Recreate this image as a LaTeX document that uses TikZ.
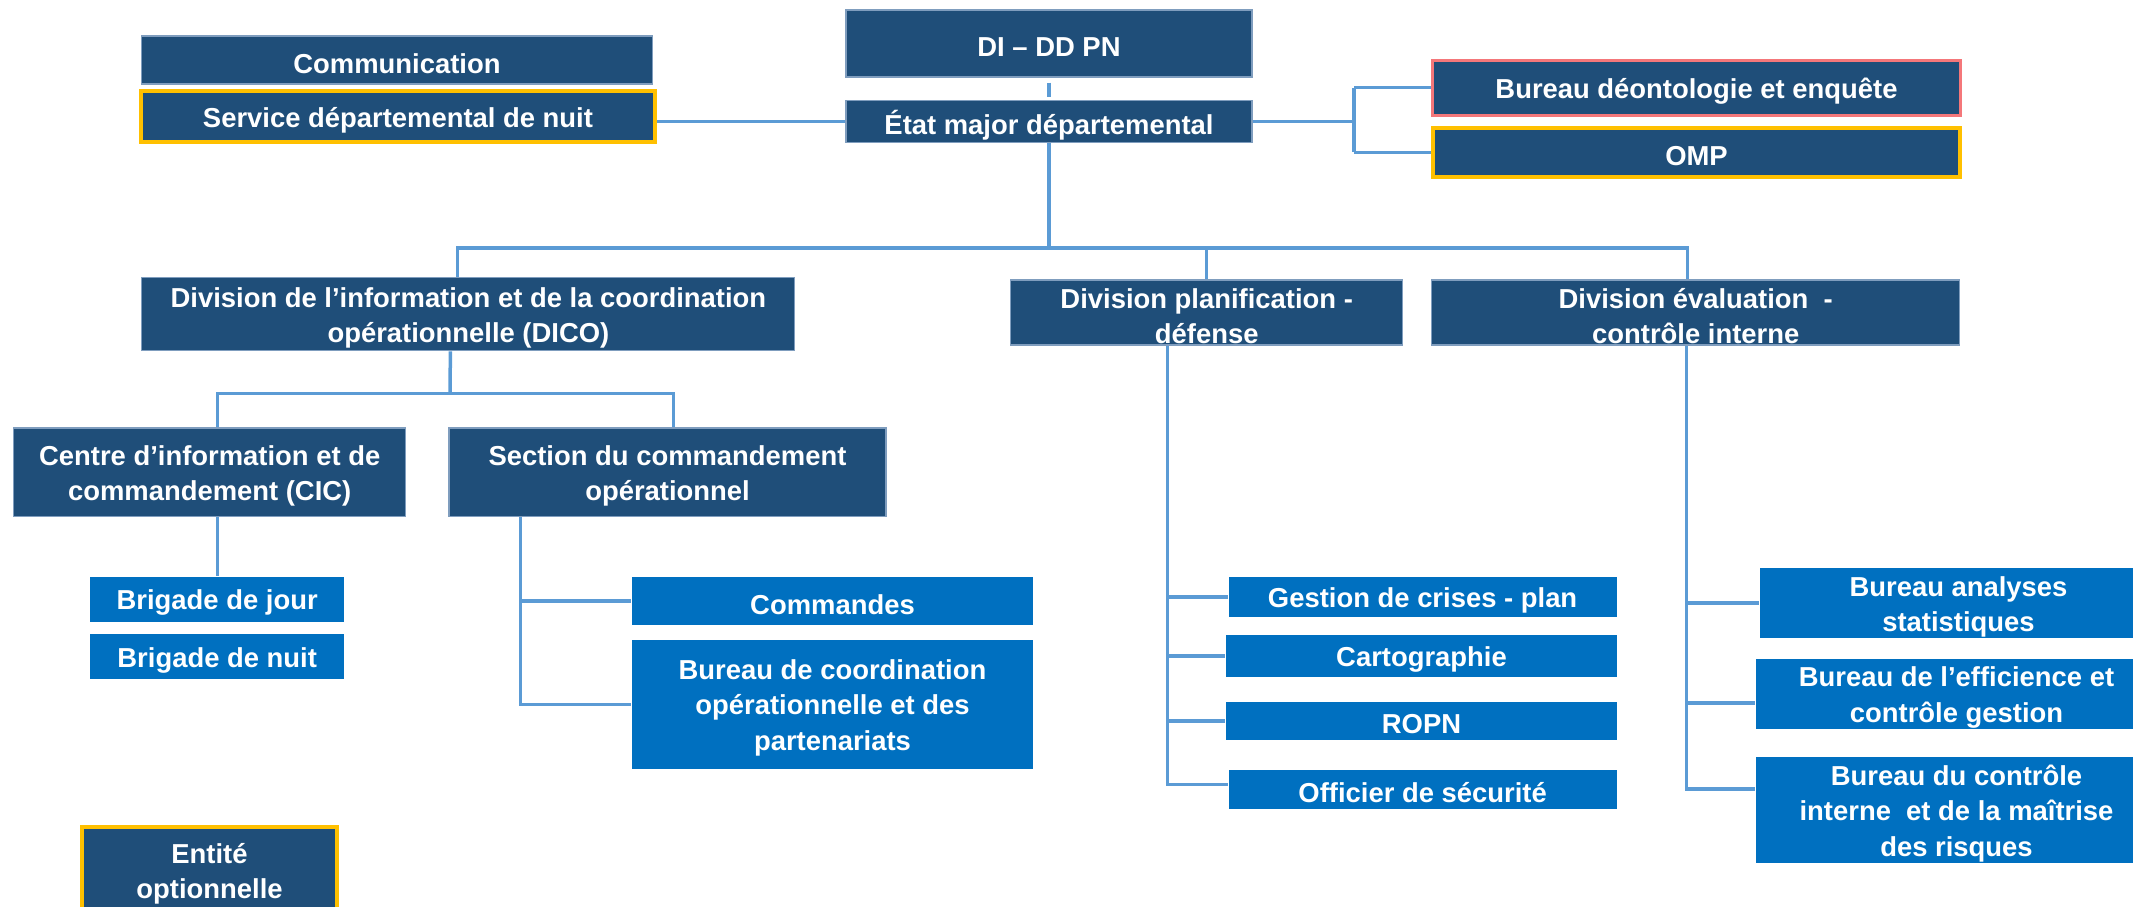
\documentclass[tikz,border=0pt]{standalone}
\usepackage{fontspec}
\setmainfont{Liberation Sans}

\definecolor{navybox}{HTML}{1F4E79}
\definecolor{navyedge}{HTML}{7F9DBE}
\definecolor{bluebox}{HTML}{0070C0}
\definecolor{linkblue}{HTML}{5B9BD5}
\definecolor{optyellow}{HTML}{FFC000}
\definecolor{deontored}{HTML}{F4777A}

\tikzset{
  boxtext/.style={text=white, align=center, inner sep=0pt, yshift=-1pt, font=\bfseries\fontsize{7.8}{10}\selectfont},
  navybox/.style={fill=navybox, draw=navyedge, line width=0.3pt, inner sep=0pt},
  bluebox/.style={fill=bluebox, inner sep=0pt},
  optbox/.style={fill=navybox, draw=optyellow, line width=0.04cm, inner sep=0pt},
  redbox/.style={fill=navybox, draw=deontored, line width=0.03cm, inner sep=0pt},
  link/.style={draw=linkblue, line width=0.035cm},
}

\begin{document}
\begin{tikzpicture}

    % Fix the frame of the picture
    \useasboundingbox (0,0) rectangle (21.33,-9.07);

    % Top of the chart
    \node[navybox, minimum width=4.06cm, minimum height=0.67cm, label={[boxtext]center:{DI – DD PN}}] (didd) at (10.49,-0.435) {};
    \node[navybox, minimum width=4.06cm, minimum height=0.42cm, label={[boxtext]center:{État major départemental}}] (etat) at (10.49,-1.215) {};
    \node[navybox, minimum width=5.11cm, minimum height=0.48cm, label={[boxtext]center:{Communication}}] (comm) at (3.97,-0.60) {};
    \node[optbox, minimum width=5.14cm, minimum height=0.51cm, label={[boxtext]center:{Service départemental de nuit}}] (nuit) at (3.98,-1.165) {};
    \node[redbox, minimum width=5.28cm, minimum height=0.55cm, label={[boxtext]center:{Bureau déontologie et enquête}}] (deonto) at (16.965,-0.877) {};
    \node[optbox, minimum width=5.27cm, minimum height=0.49cm, label={[boxtext]center:{OMP}}] (omp) at (16.965,-1.523) {};

    % The three divisions
    \node[navybox, minimum width=6.53cm, minimum height=0.73cm, label={[boxtext]center:{Division de l’information et de la coordination\\opérationnelle (DICO)}}] (dico) at (4.684,-3.144) {};
    \node[navybox, minimum width=3.92cm, minimum height=0.65cm, label={[boxtext]center:{Division planification -\\défense}}] (dplan) at (12.067,-3.125) {};
    \node[navybox, minimum width=5.275cm, minimum height=0.65cm, label={[boxtext]center:{Division évaluation~ -\\contrôle interne}}] (deval) at (16.957,-3.125) {};

    % Under the DICO
    \node[navybox, minimum width=3.915cm, minimum height=0.888cm, label={[boxtext]center:{Centre d’information et de\\commandement (CIC)}}] (cic) at (2.097,-4.724) {};
    \node[navybox, minimum width=4.37cm, minimum height=0.888cm, label={[boxtext]center:{Section du commandement\\opérationnel}}] (section) at (6.675,-4.724) {};
    \node[bluebox, minimum width=2.54cm, minimum height=0.447cm, label={[boxtext]center:{Brigade de jour}}] (bjour) at (2.172,-5.993) {};
    \node[bluebox, minimum width=2.54cm, minimum height=0.445cm, label={[boxtext]center:{Brigade de nuit}}] (bnuit) at (2.172,-6.567) {};
    \node[bluebox, minimum width=4.01cm, minimum height=0.477cm, label={[boxtext]center:{Commandes}}] (commandes) at (8.325,-6.008) {};
    \node[bluebox, minimum width=4.01cm, minimum height=1.286cm, label={[boxtext]center:{Bureau de coordination\\opérationnelle et des\\partenariats}}] (bcoord) at (8.325,-7.043) {};

    % Under the planification division
    \node[bluebox, minimum width=3.88cm, minimum height=0.40cm, label={[boxtext]center:{Gestion de crises - plan}}] (gestion) at (14.226,-5.97) {};
    \node[bluebox, minimum width=3.91cm, minimum height=0.42cm, label={[boxtext]center:{Cartographie}}] (carto) at (14.215,-6.56) {};
    \node[bluebox, minimum width=3.91cm, minimum height=0.38cm, label={[boxtext]center:{ROPN}}] (ropn) at (14.215,-7.21) {};
    \node[bluebox, minimum width=3.88cm, minimum height=0.39cm, label={[boxtext]center:{Officier de sécurité}}] (officier) at (14.226,-7.895) {};

    % Under the evaluation division
    \node[bluebox, minimum width=3.97cm, minimum height=0.70cm, label={[boxtext]center:{Bureau analyses\\statistiques}}] (banalyses) at (19.585,-6.03) {};
    \node[bluebox, minimum width=4.01cm, minimum height=0.70cm, label={[boxtext]center:{Bureau de l’efficience et\\contrôle gestion}}] (befficience) at (19.565,-6.94) {};
    \node[bluebox, minimum width=4.01cm, minimum height=1.06cm, label={[boxtext]center:{Bureau du contrôle\\interne~ et de la maîtrise\\des risques}}] (bcontrole) at (19.565,-8.10) {};

    % Legend
    \node[optbox, minimum width=2.55cm, minimum height=0.86cm, label={[boxtext]center:{Entité\\optionnelle}}] (entite) at (2.095,-8.70) {};

    % Links around the head
    \draw[link] ([yshift=-0.05cm]didd.south) -- ([yshift=0.03cm]etat.north);
    \draw[link] (etat.west) -- (etat.west -| nuit.east);
    \coordinate (brk) at (13.54,-1.2);
    \draw[link] (etat.east) -- (etat.east -| brk);
    \draw[link] (brk |- deonto.west) -- (brk |- omp.west);
    \draw[link] (brk |- deonto.west) -- (deonto.west);
    \draw[link] (brk |- omp.west) -- (omp.west);

    % Links to the divisions
    \coordinate (bus) at (10.49,-2.48);
    \draw[link] (etat.south) -- (bus);
    \draw[link] ([xshift=-0.11cm]dico.north) |- (bus) -| ([xshift=-0.08cm]deval.north);
    \draw[link] (dplan.north) -- (dplan.north |- bus);

    % Links under the DICO
    \coordinate (bus2) at (4.5,-3.934);
    \draw[link] ([xshift=-0.18cm]dico.south) -- (bus2);
    \draw[link] ([xshift=0.08cm]cic.north) |- (bus2) -| ([xshift=0.06cm]section.north);
    \draw[link] ([xshift=0.08cm]cic.south) -- ([xshift=0.08cm]cic.south |- bjour.north);
    \draw[link] ([xshift=0.72cm]section.south west) |- (bcoord.west);
    \draw[link] ([xshift=0.72cm]section.south west |- commandes.west) -- (commandes.west);

    % Links under the planification division
    \draw[link] ([xshift=-0.39cm]dplan.south) |- ([yshift=0.05cm]officier.west);
    \foreach \sub in {gestion, carto, ropn}
        \draw[link] ([xshift=-0.39cm]dplan.south |- \sub.west) -- (\sub.west);

    % Links under the evaluation division
    \draw[link] ([xshift=-0.09cm]deval.south) |- ([yshift=0.21cm]bcontrole.west);
    \draw[link] ([xshift=-0.09cm]deval.south |- banalyses.west) -- (banalyses.west);
    \draw[link] ([xshift=-0.09cm,yshift=-0.09cm]deval.south |- befficience.west) -- ([yshift=-0.09cm]befficience.west);

\end{tikzpicture}
\end{document}
